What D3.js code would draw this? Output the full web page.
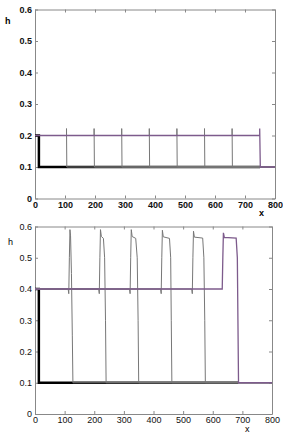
<!DOCTYPE html>
<html>
<head>
<meta charset="utf-8">
<script src="https://cdn.jsdelivr.net/npm/d3@7"></script>
<style>
  body { margin: 0; background: #fff; }
  svg { display: block; }
  .axis path, .axis line { stroke: #888; }
  .axis text { fill: #111; font-family: "Liberation Sans", Arial, sans-serif; }
</style>
</head>
<body>
<div id="chart"></div>
<script>
'use strict';

// tick values, shared by both panels
var xTicks = [0, 100, 200, 300, 400, 500, 600, 700, 800];
var hTicks = [0, 0.1, 0.2, 0.3, 0.4, 0.5, 0.6];

// upper panel: initial step, snapshots, final state
var topInitial = [[0, 0.2], [13, 0.2], [13, 0.1], [750, 0.1]];
var topSnapshots = [
    [[0, 0.2], [105, 0.2], [105, 0.222], [106, 0.1], [800, 0.1]],
    [[0, 0.2], [197, 0.2], [197, 0.222], [198, 0.1], [800, 0.1]],
    [[0, 0.2], [289, 0.2], [289, 0.222], [290, 0.1], [800, 0.1]],
    [[0, 0.2], [381, 0.2], [381, 0.222], [382, 0.1], [800, 0.1]],
    [[0, 0.2], [473, 0.2], [473, 0.222], [474, 0.1], [800, 0.1]],
    [[0, 0.2], [565, 0.2], [565, 0.222], [566, 0.1], [800, 0.1]],
    [[0, 0.2], [657, 0.2], [657, 0.222], [658, 0.1], [800, 0.1]]
];
var topFinal = [[0, 0.2], [749, 0.2], [749, 0.222], [751, 0.1], [800, 0.1]];

// lower panel
var bottomInitial = [[0, 0.4], [13, 0.4], [13, 0.1], [686, 0.1]];
var bottomSnapshots = [
    [[0, 0.4], [112, 0.4], [114, 0.385], [116, 0.5], [118, 0.59], [120, 0.57], [123, 0.45], [126, 0.25], [128, 0.1], [800, 0.1]],
    [[0, 0.4], [215, 0.4], [217, 0.385], [219, 0.5], [221, 0.59], [224, 0.568], [231, 0.562], [235, 0.5], [238, 0.3], [240, 0.1], [800, 0.1]],
    [[0, 0.4], [319, 0.4], [321, 0.385], [323, 0.5], [325, 0.59], [328, 0.568], [340, 0.562], [345, 0.5], [348, 0.3], [350, 0.1], [800, 0.1]],
    [[0, 0.4], [424, 0.4], [426, 0.385], [428, 0.5], [430, 0.588], [433, 0.567], [454, 0.562], [458, 0.5], [460, 0.3], [462, 0.1], [800, 0.1]],
    [[0, 0.4], [529, 0.4], [531, 0.385], [533, 0.5], [535, 0.585], [538, 0.566], [566, 0.563], [570, 0.5], [573, 0.3], [575, 0.1], [800, 0.1]]
];
var bottomFinal = [[0, 0.4], [632, 0.4], [634, 0.5], [636, 0.58], [639, 0.565], [679, 0.563], [683, 0.5], [685, 0.3], [687, 0.1], [800, 0.1]];

var panels = [
    { top: 9.5, bottom: 198.5, left: 35, right: 275, weight: 'bold', xLabelX: 259, xLabelY: 216, hLabelX: 5, hLabelY: 24,
      initial: topInitial, snapshots: topSnapshots, final: topFinal },
    { top: 226.5, bottom: 414, left: 35, right: 272, weight: 'normal', xLabelX: 245, xLabelY: 432, hLabelX: 8, hLabelY: 245,
      initial: bottomInitial, snapshots: bottomSnapshots, final: bottomFinal }
];

var svg = d3.select('#chart').append('svg')
    .attr('width', 283)
    .attr('height', 434);

panels.forEach(function(p) {
    var x = d3.scaleLinear().domain([0, 800]).range([p.left, p.right]);
    var y = d3.scaleLinear().domain([0, 0.6]).range([p.bottom, p.top]);
    var line = d3.line()
        .x(function(d) { return x(d[0]); })
        .y(function(d) { return y(d[1]); });

    var g = svg.append('g');

    // frame with inward ticks
    g.append('g').attr('class', 'axis')
        .attr('transform', 'translate(0,' + p.bottom + ')')
        .call(d3.axisBottom(x).tickValues(xTicks).tickSizeInner(-3).tickSizeOuter(0).tickPadding(3))
        .selectAll('text').attr('font-size', 9).attr('font-weight', p.weight);
    g.append('g').attr('class', 'axis')
        .attr('transform', 'translate(' + p.left + ',0)')
        .call(d3.axisLeft(y).tickValues(hTicks).tickSizeInner(-3).tickSizeOuter(0).tickPadding(3)
            .tickFormat(function(d) { return d === 0 ? '0' : d3.format('.1f')(d); }))
        .selectAll('text').attr('font-size', 9).attr('font-weight', p.weight);
    g.append('g').attr('class', 'axis')
        .attr('transform', 'translate(0,' + p.top + ')')
        .call(d3.axisTop(x).tickValues(xTicks).tickSizeInner(-3).tickSizeOuter(0).tickFormat(''));
    g.append('g').attr('class', 'axis')
        .attr('transform', 'translate(' + p.right + ',0)')
        .call(d3.axisRight(y).tickValues(hTicks).tickSizeInner(-3).tickSizeOuter(0).tickFormat(''));

    g.append('path')
        .attr('d', line(p.initial))
        .attr('fill', 'none')
        .attr('stroke', '#000')
        .attr('stroke-width', 2.5);

    g.selectAll('path.snap')
        .data(p.snapshots)
        .enter().append('path')
        .attr('class', 'snap')
        .attr('d', line)
        .attr('fill', 'none')
        .attr('stroke', '#777')
        .attr('stroke-width', 1);

    g.append('path')
        .attr('d', line(p.final))
        .attr('fill', 'none')
        .attr('stroke', '#7d5b8c')
        .attr('stroke-width', 1.3);

    g.append('text')
        .attr('x', p.xLabelX).attr('y', p.xLabelY)
        .attr('font-family', 'Liberation Sans, Arial, sans-serif')
        .attr('font-size', 9).attr('font-weight', p.weight)
        .text('x');
    g.append('text')
        .attr('x', p.hLabelX).attr('y', p.hLabelY)
        .attr('font-family', 'Liberation Sans, Arial, sans-serif')
        .attr('font-size', 9).attr('font-weight', p.weight)
        .text('h');
});
</script>
</body>
</html>
